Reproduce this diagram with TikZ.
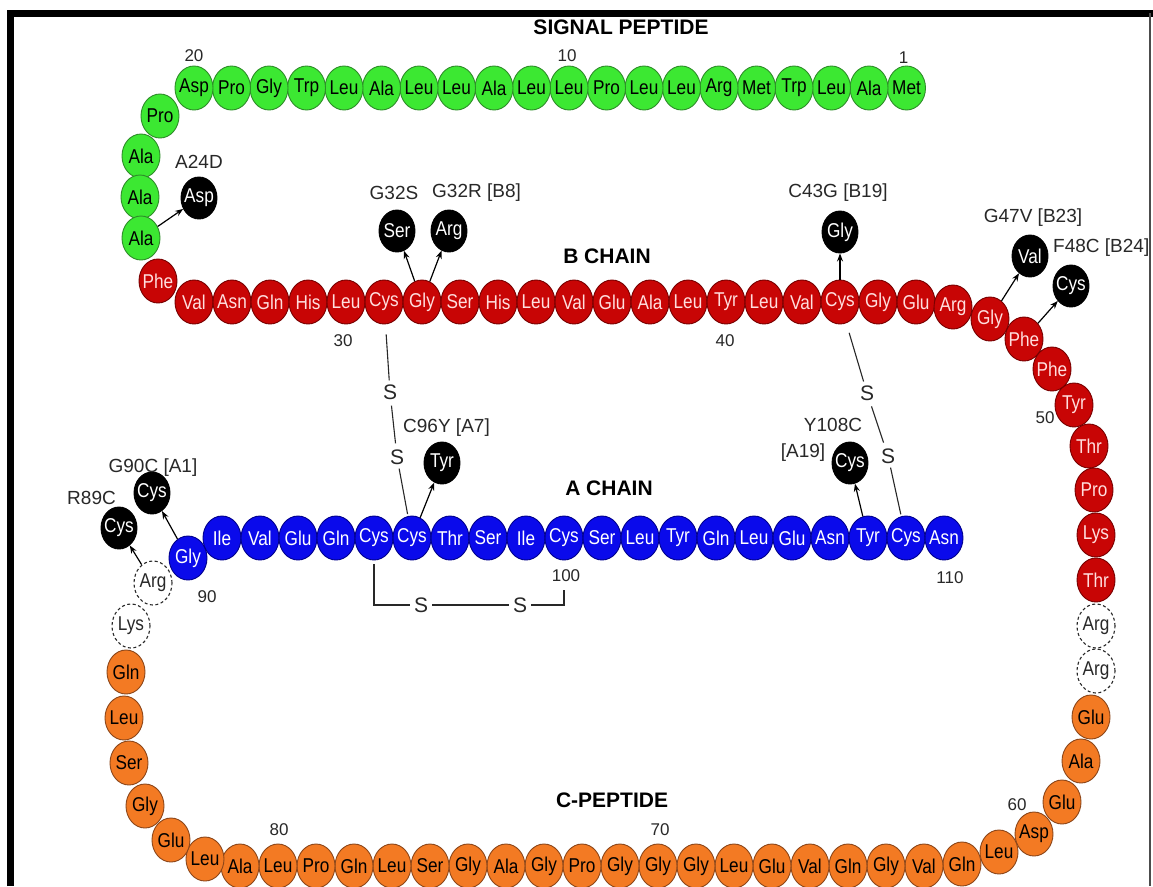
\documentclass[tikz,border=0pt]{standalone}
\usepackage{fontspec}
\setmainfont{Liberation Sans}
\newfontfamily\resfont[FakeStretch=0.86]{Liberation Sans}
\usetikzlibrary{shapes.geometric,arrows.meta}

\definecolor{sigfill}{RGB}{60,232,50}
\definecolor{sigedge}{RGB}{45,140,40}
\definecolor{bfill}{RGB}{200,5,5}
\definecolor{bedge}{RGB}{120,0,0}
\definecolor{btext}{RGB}{255,222,222}
\definecolor{afill}{RGB}{10,10,235}
\definecolor{aedge}{RGB}{0,0,140}
\definecolor{cfill}{RGB}{243,122,35}
\definecolor{cedge}{RGB}{140,70,25}
\definecolor{ink}{RGB}{40,40,40}

\begin{document}
\begin{tikzpicture}[x=1pt,y=-1pt,
  aa/.style={ellipse, minimum width=38pt, minimum height=44pt, inner sep=0pt, line width=0.9pt},
  rt/.style={font=\resfont\fontsize{20}{20}\selectfont, inner sep=0pt},
  sig/.style={aa, fill=sigfill, draw=sigedge, label={[rt, text=black]center:#1}},
  bch/.style={aa, fill=bfill, draw=bedge, label={[rt, text=btext]center:#1}},
  ach/.style={aa, fill=afill, draw=aedge, label={[rt, text=white]center:#1}},
  cpep/.style={aa, fill=cfill, draw=cedge, label={[rt, text=black]center:#1}},
  cut/.style={aa, fill=white, draw=ink, line width=1.1pt, dash pattern=on 3pt off 2.5pt, label={[rt, text=ink]center:#1}},
  mut/.style={aa, minimum width=36pt, minimum height=42pt, fill=black, draw=black, label={[rt, text=white]center:#1}},
  num/.style={font=\fontsize{17}{17}\selectfont, text=ink, inner sep=0pt},
  lab/.style={font=\fontsize{19}{19}\selectfont, text=ink, inner sep=0pt},
  title/.style={font=\bfseries\fontsize{21}{21}\selectfont, inner sep=0pt},
  sulf/.style={font=\fontsize{21}{21}\selectfont, text=ink, inner sep=1pt},
  arr/.style={-{Stealth[length=8pt,width=6pt]}, line width=1.2pt},
  bond/.style={line width=1.1pt, ink}
]
\useasboundingbox (0,0) rectangle (1153,886);
\fill[white] (0,0) rectangle (1153,886);

% frame
\draw[line width=7pt] (10,886) -- (10,13) -- (1153,13);
\draw[line width=1.6pt, black!70] (1150,13) -- (1150,886);

% ---------- signal peptide (1-24) ----------
\foreach \aa [count=\i] in {Met,Ala,Leu,Trp,Met,Arg,Leu,Leu,Pro,Leu,Leu,Ala,Leu,Leu,Ala,Leu,Trp,Gly,Pro,Asp}
  \node[sig=\aa] (r\i) at ({906.5-37.5*(\i-1)},88) {};
\node[sig=Pro] (r21) at (160,116) {};
\node[sig=Ala] (r22) at (141,156) {};
\node[sig=Ala] (r23) at (140,197) {};
\node[sig=Ala] (r24) at (141,238) {};

% ---------- B chain (25-54) ----------
\node[bch=Phe] (r25) at (158,281) {};
\foreach \aa [count=\k from 26] in {Val,Asn,Gln,His,Leu,Cys,Gly,Ser,His,Leu,Val,Glu,Ala,Leu,Tyr,Leu,Val,Cys,Gly,Glu}
  \node[bch=\aa] (r\k) at ({194+38*(\k-26)},302) {};
\foreach \x/\y/\aa/\k in {953/307/Arg/46, 990/319/Gly/47, 1024/339/Phe/48, 1052/369/Phe/49,
    1074/405/Tyr/50, 1089/446/Thr/51, 1094/490/Pro/52, 1096/535/Lys/53, 1096/580/Thr/54}
  \node[bch=\aa] (r\k) at (\x,\y) {};

% cleaved dibasic sites
\node[cut=Arg] (r55) at (1096,626) {};
\node[cut=Arg] (r56) at (1096,671) {};

% ---------- C-peptide (57-87) ----------
\foreach \x/\y/\aa/\k in {1091/717/Glu/57, 1081/761/Ala/58, 1062/802/Glu/59, 1034/834/Asp/60,
    999/852/Leu/61, 962/864/Gln/62}
  \node[cpep=\aa] (r\k) at (\x,\y) {};
\foreach \aa [count=\k from 63] in {Val,Gly,Gln,Val,Glu,Leu,Gly,Gly,Gly,Pro,Gly,Ala,Gly,Ser,Leu,Gln,Pro,Leu,Ala}
  \node[cpep=\aa] (r\k) at ({962-38*(\k-62)},866) {};
\foreach \x/\y/\aa/\k in {205/859/Leu/82, 171/840/Glu/83, 145/806/Gly/84, 129/763/Ser/85,
    124/718/Leu/86, 126/672/Gln/87}
  \node[cpep=\aa] (r\k) at (\x,\y) {};
\node[cut=Lys] (r88) at (131,626) {};
\node[cut=Arg] (r89) at (153,583) {};

% ---------- A chain (90-110) ----------
\node[ach=Gly] (r90) at (188,558) {};
\foreach \aa [count=\k from 91] in {Ile,Val,Glu,Gln,Cys,Cys,Thr,Ser,Ile,Cys,Ser,Leu,Tyr,Gln,Leu,Glu,Asn,Tyr,Cys,Asn}
  \node[ach=\aa] (r\k) at ({222+38*(\k-91)},538) {};

% ---------- mutant residues ----------
\node[mut=Asp] (m24) at (199,198) {};
\node[mut=Ser] (m32s) at (397,231) {};
\node[mut=Arg] (m32r) at (449,231) {};
\node[mut=Gly] (m43) at (840,232) {};
\node[mut=Val] (m47) at (1030,256) {};
\node[mut=Cys] (m48) at (1071,286) {};
\node[mut=Tyr] (m96) at (442,463) {};
\node[mut=Cys] (m108) at (850,463) {};
\node[mut=Cys] (m89) at (119,528) {};
\node[mut=Cys] (m90) at (152,493) {};

\draw[arr] (r24) -- (m24);
\draw[arr] (r32) -- (m32s);
\draw[arr] (r32) -- (m32r);
\draw[arr] (r43) -- (m43);
\draw[arr] (r47) -- (m47);
\draw[arr] (r48) -- (m48);
\draw[arr] (r96) -- (m96);
\draw[arr] (r108) -- (m108);
\draw[arr] (r89) -- (m89);
\draw[arr] (r90) -- (m90);

\node[lab] (l24) at (199,162) {A24D};
\node[lab] (l32s) at (394,193) {G32S};
\node[lab, anchor=west] (l32r) at (432,193) {G32R [B8]};
\node[lab] (l43) at (838,193) {C43G [B19]};
\node[lab] (l47) at (1033,218) {G47V [B23]};
\node[lab, anchor=west] (l48) at (1053,248) {F48C [B24]};
\node[lab, anchor=west] (l96) at (403,428) {C96Y [A7]};
\node[lab] (l108) at (833,425) {Y108C};
\node[lab] (l108b) at (803,453) {[A19]};
\node[lab, anchor=east] (l89) at (116,498) {R89C};
\node[lab] (l90) at (153,468) {G90C [A1]};

% ---------- disulfide bonds ----------
\node[sulf] (s1) at (390,392) {S};
\node[sulf] (s2) at (397,457) {S};
\node[sulf] (s3) at (867,393) {S};
\node[sulf] (s4) at (888,456) {S};
\node[sulf] (s5) at (421,605) {S};
\node[sulf] (s6) at (520,605) {S};
\draw[bond, shorten <=10pt, shorten >=3pt] (r31) -- (s1);
\draw[bond, shorten <=5pt, shorten >=5pt] (s1) -- (s2);
\draw[bond, shorten <=3pt, shorten >=2pt] (s2) -- (r96);
\draw[bond, shorten <=10pt, shorten >=3pt] (r43) -- (s3);
\draw[bond, shorten <=5pt, shorten >=5pt] (s3) -- (s4);
\draw[bond, shorten <=3pt, shorten >=2pt] (s4) -- (r109);
\draw[bond, shorten >=3pt] ([yshift=-4pt]r95.south) |- (s5.west);
\draw[bond, shorten <=3pt, shorten >=3pt] (s5) -- (s6);
\draw[bond, shorten <=3pt] (s6.east) -| ([yshift=-30pt]r100.south);

% ---------- numbering ----------
\node[num] at (r20 |- 0,56) {20};
\node[num] at (567,56) {10};
\node[num] at ([xshift=-3pt]r1.center |- 0,58) {1};
\node[num] at (343,341) {30};
\node[num] at (725,341) {40};
\node[num] at (1045,418) {50};
\node[num] at (1017,805) {60};
\node[num] at (660,830) {70};
\node[num] at (279,830) {80};
\node[num] at (207,597) {90};
\node[num] at (566,576) {100};
\node[num] at (950,578) {110};

% ---------- region titles ----------
\node[title] at (621,27) {SIGNAL PEPTIDE};
\node[title] at (607,256) {B CHAIN};
\node[title] at (609,488) {A CHAIN};
\node[title] at (612,800) {C-PEPTIDE};
\end{tikzpicture}
\end{document}
